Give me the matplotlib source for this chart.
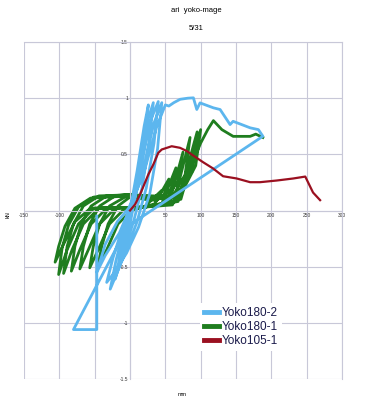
import matplotlib
matplotlib.use("Agg")
import matplotlib.pyplot as plt

plt.rcParams['axes.unicode_minus'] = False
plt.rcParams['font.family'] = ['Liberation Sans', 'DejaVu Sans']

# Yoko180-2 (light blue)
blue_x = [0, 10, 20, 26, 20, 10, 0, -8, -15,
          -10, -3, 5, 15, 25, 33, 27, 17, 5, -8, -21,
          -14, -6, 4, 16, 29, 40, 34, 23, 10, -5, -18, -28,
          -20, -10, 2, 18, 34, 45, 39, 28, 12, -5, -22, -33,
          -24, -12, 0, -15, -35, -47, -35, -18, -2, 18, 38, 50,
          55, 62, 71, 82, 89.7, 94.5, 99.1, 118, 127.5, 141.6, 145.9, 158, 170, 181.7, 188,
          -3, -80, -47, -47]
blue_y = [0, 0.35, 0.75, 0.94, 0.6, 0.2, -0.12, -0.3, -0.45,
          -0.3, -0.1, 0.1, 0.45, 0.8, 0.96, 0.6, 0.2, -0.1, -0.35, -0.61,
          -0.4, -0.15, 0.08, 0.4, 0.8, 0.97, 0.6, 0.2, -0.1, -0.35, -0.55, -0.70,
          -0.45, -0.2, 0.02, 0.35, 0.78, 0.96, 0.55, 0.15, -0.15, -0.38, -0.55, -0.64,
          -0.42, -0.18, 0.02, -0.2, -0.4, -0.55, -0.3, -0.1, 0.02, 0.3, 0.75, 0.94,
          0.93, 0.96, 0.99, 1.0, 1.003, 0.899, 0.958, 0.914, 0.899, 0.765, 0.794, 0.765, 0.736, 0.72, 0.661,
          -0.14, -1.06, -1.06, -0.05]

# Yoko180-1 (green)
green_x = [0,
           20, 25, 45, 38, 20, 0, -17, -31, -40, -45, -33, -17, 5,
           20, 35, 55, 48, 30, 0, -7, -29, -43, -52, -57, -45, -29, -7,
           20, 45, 65, 58, 40, 0, -21, -43, -57, -66, -71, -59, -43, -21,
           20, 55, 75, 68, 50, 0, -33, -55, -69, -78, -83, -71, -55, -33,
           20, 62, 85, 78, 58, 0, -44, -66, -80, -89, -94, -82, -66, -44,
           20, 68, 95, 88, 65, 0, -51, -73, -87, -96, -101, -89, -73, -51,
           20, 72, 100, 93, 70, 0, -56, -78, -92, -101, -106, -94, -78, -56,
           20, 60, 80, 100, 110, 118, 130, 146, 170, 178, 188]
green_y = [0,
           0.03, 0.06, 0.18, 0.09, 0.1, 0.12, 0.04, -0.12, -0.32, -0.48, -0.35, -0.12, 0.02,
           0.03, 0.06, 0.28, 0.14, 0.1, 0.12, 0.12, 0.04, -0.12, -0.32, -0.51, -0.35, -0.12, 0.02,
           0.03, 0.06, 0.38, 0.19, 0.1, 0.13, 0.13, 0.04, -0.12, -0.32, -0.52, -0.35, -0.12, 0.02,
           0.03, 0.06, 0.52, 0.26, 0.1, 0.14, 0.13, 0.04, -0.12, -0.32, -0.54, -0.35, -0.12, 0.02,
           0.03, 0.07, 0.65, 0.32, 0.1, 0.14, 0.13, 0.04, -0.12, -0.32, -0.56, -0.35, -0.12, 0.02,
           0.03, 0.08, 0.7, 0.35, 0.12, 0.14, 0.12, 0.03, -0.13, -0.33, -0.57, -0.35, -0.12, 0.02,
           0.03, 0.1, 0.72, 0.4, 0.12, 0.13, 0.11, 0.02, -0.14, -0.32, -0.46, -0.3, -0.1, 0.02,
           0.03, 0.05, 0.3, 0.6, 0.72, 0.8, 0.72, 0.66, 0.66, 0.68, 0.65]

# Yoko105-1 (dark red)
red_x = [0, 7.1, 14.2, 25.9, 33, 40, 44.9, 59, 70.8, 80.7, 87.4, 103.4, 117.6, 131.7, 151,
         170, 184, 207.8, 231, 248, 259, 269]
red_y = [0, 0.053, 0.142, 0.32, 0.41, 0.513, 0.543, 0.572, 0.558, 0.528, 0.498, 0.43, 0.374,
         0.305, 0.285, 0.252, 0.252, 0.267, 0.285, 0.302, 0.16, 0.092]

x_ticks = [-150, -100, -50, 0, 50, 100, 150, 200, 250, 300]
x_labels = ["-150", "-100", "-50", "0", "50", "100", "150", "200", "250", "300"]
y_ticks = [-1.5, -1, -0.5, 0, 0.5, 1, 1.5]
y_labels = ["-1.5", "-1", "-0.5", "0", "0.5", "1", "1.5"]

fig = plt.figure(figsize=(3.91, 4.0), dpi=100)
ax = fig.add_axes([0.0614, 0.0525, 0.8133, 0.8425])

gridc = "#c8c8d8"
ax.plot(blue_x, blue_y, color="#5cb6ee", lw=2.0, solid_joinstyle="round", label="Yoko180-2", zorder=3)
ax.plot(green_x, green_y, color="#1f7d1f", lw=2.0, solid_joinstyle="round", label="Yoko180-1", zorder=2)
ax.plot(red_x, red_y, color="#9a1020", lw=1.6, solid_joinstyle="round", label="Yoko105-1", zorder=4)

ax.set_xlim(-150, 300)
ax.set_ylim(-1.5, 1.5)
ax.set_xticks(x_ticks)
ax.set_xticklabels(x_labels)
ax.set_yticks(y_ticks)
ax.set_yticklabels(y_labels)
ax.grid(True, color=gridc, lw=0.8)
ax.set_axisbelow(True)
ax.spines['left'].set_position(('data', 0))
ax.spines['bottom'].set_position(('data', 0))
for s in ax.spines.values():
    s.set_color(gridc)
    s.set_linewidth(0.8)
ax.tick_params(length=0, labelsize=3.5, pad=1.5, colors="#333333")

fig.text(0.501, 0.9725, "ari  yoko-mage", ha="center", va="center", fontsize=5.5)
fig.text(0.501, 0.93, "5/31", ha="center", va="center", fontsize=5.5)
fig.text(0.02, 0.4625, "kN", ha="center", va="center", rotation=90, fontsize=4)
fig.text(0.465, 0.015, "mm", ha="center", va="center", fontsize=4)

leg = ax.legend(loc="center", bbox_to_anchor=(241 / 391, 1 - 327 / 400),
                bbox_transform=fig.transFigure, frameon=True, fontsize=8.5,
                handlelength=1.3, handletextpad=0.2, labelspacing=0.2,
                borderpad=0.3, fancybox=False)
leg.get_frame().set_edgecolor("none")
leg.get_frame().set_alpha(1)
for line in leg.get_lines():
    line.set_linewidth(3.5)
for t in leg.get_texts():
    t.set_color("#1a1a4a")

fig.savefig("out.png", dpi=100)
